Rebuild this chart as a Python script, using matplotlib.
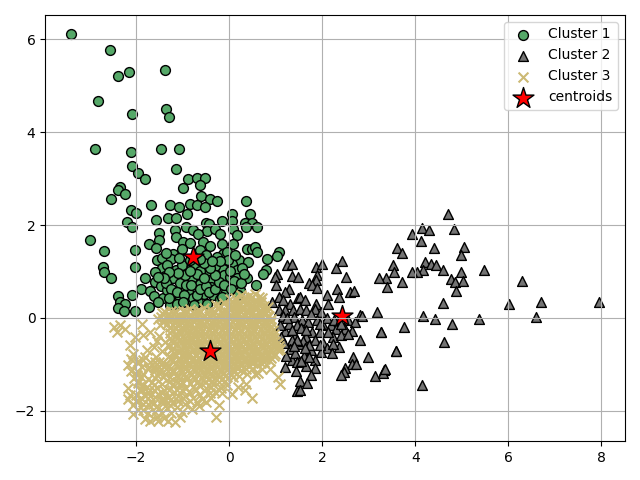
import matplotlib
matplotlib.use('Agg')
from matplotlib import pyplot as plt

cluster1 = [(-3.39,6.11),(-2.57,5.78),(-2.38,5.22),(-2.15,5.31),(-1.37,5.35),(-2.81,4.68),(-2.08,4.40),(-1.35,4.51),
    (-1.29,4.34),(-2.88,3.65),(-2.12,3.58),(-1.46,3.63),(-1.07,3.65),(-2.08,3.28),(-1.96,3.12),(-1.14,3.20),
    (-1.82,3.0),(-0.88,3.0),(-0.70,3.01),(-0.51,3.01),(-0.62,2.87),(-0.99,2.79),(-2.35,2.82),(-2.40,2.76),
    (-2.23,2.68),(-2.53,2.57),(-0.60,2.62),(-0.41,2.57),(-0.26,2.51),(0.36,2.51),(-0.84,2.46),(-0.70,2.44),
    (-0.53,2.38),(-1.67,2.43),(-1.27,2.43),(-1.07,2.40),(-2.10,2.33),(-2.01,2.27),(-0.90,2.23),(0.07,2.25),
    (0.45,2.23),(-1.31,2.16),(-1.15,2.16),(-1.58,2.12),(-2.19,2.06),(-2.08,1.96),(-0.49,2.05),(-0.43,2.02),
    (-0.16,2.09),(0.07,2.09),(0.34,2.05),(0.49,2.05),(0.37,1.96),(0.59,1.96),(-0.93,1.97),(-0.77,1.90),
    (-1.17,1.90),(-1.50,1.84),(-0.47,1.87),(-0.31,1.92),(0.09,1.92),(-0.19,1.80),(0.16,1.78),(-1.14,1.74),
    (-0.66,1.80),(-1.50,1.67),(-1.72,1.59),(-1.58,1.51),(-2.02,1.47),(-2.70,1.45),(-1.00,1.64),(-0.84,1.62),
    (-0.57,1.64),(-0.42,1.54),(-0.16,1.59),(0.09,1.60),(-1.02,1.48),(-1.20,1.38),(-0.63,1.46),(-0.13,1.38),
    (-0.27,1.31),(-0.49,1.35),(0.39,1.49),(0.49,1.49),(0.55,1.53),(0.59,1.42),(1.07,1.42),(1.03,1.33),
    (0.82,1.28),(0.21,1.24),(0.41,1.20),(-1.56,1.24),(-1.45,1.29),(-1.24,1.28),(-0.95,1.10),(-0.74,1.17),
    (0.05,1.17),(-2.02,1.10),(-2.72,1.10),(-2.70,0.99),(-2.55,0.85),(-1.82,0.85),(-1.89,0.63),(-1.45,1.08),
    (-1.59,0.99),(-1.14,1.04),(-1.13,0.88),(-0.49,0.99),(-0.14,1.06),(-0.11,0.92),(0.16,1.03),(0.80,1.04),
    (0.73,0.94),(0.39,0.87),(0.01,0.88),(0.16,0.87),(-0.81,0.85),(-0.41,0.81),(-1.20,0.85),(-1.38,0.90),
    (-1.59,0.77),(-1.47,0.68),(-1.02,0.67),(-0.74,0.61),(-0.21,0.63),(0.23,0.61),(0.57,0.70),(-0.40,0.67),
    (-0.63,0.74),(-1.06,0.75),(-1.70,0.58),(-1.61,0.47),(-1.27,0.52),(-0.88,0.56),(-0.55,0.52),(-0.34,0.49),
    (-0.06,0.56),(-2.40,0.47),(-2.09,0.50),(-1.20,0.38),(-1.42,0.42),(-0.88,0.34),(-2.35,0.34),(-2.23,0.29),
    (-2.38,0.22),(-2.27,0.15),(-2.02,0.16),(-1.72,0.23),(-1.27,0.27),(-1.52,0.34),(-0.66,0.34),(-0.20,0.40),
    (-1.06,0.45),(-1.34,0.60),(0.09,0.70),(-2.99,1.67),(-0.30,1.12),(-0.62,1.02),(-0.95,0.92),(-1.33,1.15),
    (0.27,1.08),(-0.05,1.42),(-0.78,0.42),(-0.48,0.30),
    (-1.35,0.75),(-1.25,0.62),(-1.12,0.55),(-0.98,0.50),(-0.92,0.72),(-0.82,0.70),(-0.70,0.50),(-0.62,0.62),
    (-0.50,0.68),(-0.44,0.55),(-0.30,0.62),(-0.22,0.78),(-0.30,0.92),(-0.42,1.08),(-0.55,1.18),(-0.70,0.95),
    (-0.85,1.02),(-1.02,1.15),(-1.10,0.96),(-1.30,1.00),(-1.40,0.85),(-1.52,0.88),(-1.30,0.42),(-1.12,0.30),
    (-0.12,0.72),(0.02,1.02),(0.10,0.80),(0.25,0.75),(0.32,0.95),(-0.02,1.25),(0.12,1.35),(-0.20,1.22),
    (-0.38,1.22),(-0.62,1.28),(-0.85,1.25),(-1.08,1.30),(-1.35,1.40),(0.03,0.62),(0.18,0.50),(-0.15,0.45),
    (-0.55,0.85),(-1.00,0.35),(-0.75,0.28)]

cluster2 = [(1.24,1.15),(1.35,1.16),(1.87,1.10),(2.00,1.17),(2.43,1.23),(2.30,1.08),(1.03,0.95),(0.98,0.88),
    (1.35,0.90),(1.48,0.88),(1.89,0.92),(1.86,0.81),(2.51,0.88),(1.01,0.71),(1.71,0.75),(1.77,0.72),
    (1.89,0.65),(1.29,0.62),(1.21,0.56),(2.32,0.62),(2.59,0.56),(2.68,0.58),(2.10,0.50),(2.35,0.45),
    (1.07,0.46),(1.48,0.44),(0.92,0.34),(1.16,0.38),(1.86,0.31),(2.13,0.31),(1.30,0.31),(1.07,0.18),
    (1.20,0.18),(1.37,0.18),(1.52,0.20),(1.64,0.18),(1.84,0.20),(1.98,0.13),(2.81,0.06),(2.86,0.05),
    (3.18,0.13),(1.40,0.01),(1.57,-0.04),(1.89,-0.04),(2.55,-0.05),(2.70,-0.09),(1.46,-0.16),(1.70,-0.09),
    (2.02,-0.16),(2.18,-0.16),(2.30,-0.23),(2.48,-0.23),(2.63,-0.28),(1.21,-0.28),(1.77,-0.30),(1.95,-0.30),
    (3.26,-0.30),(3.76,-0.20),(1.41,-0.38),(1.65,-0.40),(2.23,-0.40),(2.41,-0.36),(1.34,-0.48),(1.85,-0.48),
    (2.81,-0.47),(1.50,-0.57),(1.75,-0.68),(2.02,-0.54),(2.10,-0.64),(2.35,-0.63),(2.23,-0.57),(1.30,-0.66),
    (1.98,-0.74),(3.59,-0.71),(2.98,-0.84),(2.66,-0.84),(1.61,-0.81),(1.34,-0.91),(1.85,-0.91),(2.63,-0.99),
    (2.73,-1.00),(1.20,-1.06),(1.66,-1.04),(1.84,-1.07),(2.49,-1.07),(2.47,-1.17),(2.41,-1.24),(1.43,-1.14),
    (1.75,-1.24),(3.13,-1.25),(1.52,-1.35),(1.67,-1.40),(1.45,-1.58),(1.52,-1.55),
    (1.55,-0.22),(1.28,-0.12),(1.42,-0.75),(1.58,-0.50),(1.72,-0.58),(2.12,-0.30),(1.22,-0.82),(1.46,-0.95),
    (1.12,-0.40),(1.18,-0.55),(1.10,-0.15),(1.35,-0.25),(1.45,-0.48),(1.62,-0.65),(1.55,-0.92),(1.72,-0.85),
    (1.40,-0.60),(1.95,-0.12),(2.10,0.00),(1.75,0.08),(1.52,0.45),(1.62,0.38),(1.15,0.05),(1.25,0.00),
    (2.25,-0.05),(2.40,-0.12),(2.55,-0.35),(2.20,-0.75),(1.95,-0.58),(1.65,-0.25),
    (4.70,2.25),(4.14,1.94),(4.29,1.89),(3.93,1.81),(4.83,1.91),(4.12,1.65),(4.40,1.50),(5.04,1.53),
    (4.98,1.36),(3.60,1.50),(3.71,1.41),(4.21,1.21),(4.33,1.17),(4.44,1.14),(3.52,1.14),(4.16,1.03),
    (4.04,1.00),(3.93,0.99),(4.59,1.03),(4.98,1.00),(5.47,1.03),(3.54,0.99),(3.36,0.87),(3.22,0.87),
    (3.71,0.77),(3.39,0.67),(4.77,0.84),(4.85,0.77),(5.02,0.79),(4.87,0.57),(6.29,0.80),(4.59,0.32),
    (6.02,0.29),(6.70,0.34),(7.94,0.34),(6.59,0.02),(5.37,-0.02),(4.16,0.04),(4.42,-0.02),(4.79,-0.14),
    (3.27,-0.30),(4.61,-0.52),(3.33,-1.13),(3.31,-1.18),(3.34,-1.09),(4.14,-1.45),(3.58,-0.72)]

cluster3 = [(-2.47,-0.20),(-2.35,-0.16),(-2.42,-0.30),(-2.24,-0.23),(-1.88,-0.12),(-1.85,-0.37),(-1.70,-0.30),
    (-2.02,-0.41),(-2.13,-0.59),(-2.06,-0.77),(-2.10,-0.88),(-2.17,-1.02),(-1.85,-0.91),(-1.77,-0.70),(-1.38,-0.52),
    (-1.60,-0.95),(-1.60,-1.13),(-1.38,-1.20),(-1.85,-1.20),(-1.99,-1.24),(-2.17,-1.52),(-2.13,-1.67),(-2.17,-1.74),
    (-2.06,-1.88),(-2.06,-2.06),(-1.85,-1.99),(-1.81,-2.17),(-1.70,-2.22),(-1.56,-2.13),(-1.52,-2.22),(-1.31,-2.22),
    (-1.16,-2.24),(-1.06,-2.13),(-1.02,-2.03),(-0.29,-2.13),(-0.21,-1.88),(-0.49,-1.81),(-0.81,-1.96),(-0.70,-1.81),
    (0.48,-1.72),(0.34,-1.56),(0.05,-1.63),(0.19,-1.49),(1.09,-1.42),(1.05,-1.27),(0.87,-1.09),(0.55,-1.20),
    (0.37,-1.42),(-1.63,-1.85),(-1.92,-1.56),(-1.77,-1.49),(-1.52,-1.63),(-1.31,-1.70),(-1.13,-1.56),(-1.45,-1.42),
    (-1.27,-1.27),(-1.70,-1.68),(-1.95,-1.78),(-1.45,-1.80),(-1.20,-1.84),(-1.00,-1.72),(-0.85,-1.62),(-0.55,-1.55),
    (-1.75,-1.10),(-1.95,-0.98),(-0.30,-1.60),(-1.60,-2.03),(-1.90,-1.72),(-1.40,-1.55),(-1.05,-1.45),(-1.55,-1.22),
    (-1.75,-1.32),(-1.95,-1.40),(-1.68,-1.78),(-1.38,-1.90),(-1.10,-1.68),(-0.72,-1.55),(-0.40,-1.48),
    # lower left of the cluster, loosely packed
    (-1.95,-0.92),(-1.80,-0.85),(-1.70,-0.95),(-1.88,-1.05),(-1.72,-1.05),(-1.50,-0.95),(-1.38,-1.02),(-1.98,-1.15),
    (-1.62,-1.05),(-1.48,-1.15),(-1.35,-1.10),(-1.22,-1.15),(-1.90,-1.28),(-1.42,-1.27),(-1.15,-1.25),(-1.30,-1.38),
    (-1.95,-1.35),(-1.85,-1.45),(-1.65,-1.38),(-1.55,-1.50),(-1.20,-1.42),(-1.10,-1.38),
    (-1.88,-1.55),(-1.75,-1.60),(-1.62,-1.56),(-1.45,-1.62),(-1.30,-1.55),(-1.18,-1.60),(-1.02,-1.55),(-0.92,-1.50),
    (-0.78,-1.48),(-0.65,-1.45),(-0.50,-1.50),(-0.35,-1.43),(-0.22,-1.38),(-0.10,-1.35),(-0.18,-1.50),(-0.05,-1.45),
    (-2.00,-1.65),(-1.82,-1.68),(-1.60,-1.70),(-1.42,-1.72),(-1.25,-1.75),(-1.10,-1.78),(-0.95,-1.68),(-0.78,-1.72),
    (-0.62,-1.65),(-0.42,-1.62),(-0.15,-1.62),(-0.58,-1.75),(-0.40,-1.72),
    (-2.00,-1.80),(-1.85,-1.85),(-1.72,-1.88),(-1.55,-1.90),(-1.40,-1.82),(-1.28,-1.88),(-1.12,-1.92),(-0.95,-1.85),
    (-0.85,-1.80),(-0.65,-1.90),(-0.10,-1.25),(0.08,-1.28),(0.22,-1.25),(0.38,-1.20),(0.70,-1.10),(0.62,-1.18),(0.48,-1.10),
    (-2.05,-1.30),(-2.12,-1.15),(-1.95,-1.98),(-1.75,-2.05),(-1.45,-2.05),(-1.25,-2.05),(-1.40,-2.15),
    # dense part of the cluster, row by row
    (0.25,0.50),(0.42,0.47),(0.55,0.52),(0.02,0.40),(0.13,0.43),(0.30,0.38),(0.45,0.41),(0.60,0.37),(0.70,0.42),
    (-0.28,0.28),(-0.12,0.32),(0.00,0.27),(0.10,0.31),(0.22,0.26),(0.35,0.30),(0.50,0.27),(0.62,0.31),(0.75,0.26),
    (-1.00,0.16),(-0.85,0.20),(-0.70,0.15),(-0.55,0.22),(-0.40,0.17),(-0.25,0.20),(-0.10,0.15),(0.03,0.19),(0.15,0.14),
    (0.28,0.20),(0.42,0.16),(0.55,0.21),(0.68,0.15),(0.80,0.19),
    (-1.45,0.10),(-1.32,0.06),(-1.20,0.11),(-1.08,0.05),(-0.95,0.10),(-0.80,0.04),(-0.66,0.09),(-0.52,0.05),(-0.38,0.11),
    (-0.22,0.05),(-0.08,0.09),(0.05,0.04),(0.20,0.10),(0.33,0.05),(0.46,0.09),(0.60,0.03),(0.74,0.08),(0.86,0.04),
    (-1.52,-0.03),(-1.40,-0.05),(-1.27,-0.01),(-1.14,-0.06),(-1.02,-0.02),(-0.88,-0.06),(-0.74,-0.02),(-0.60,-0.07),
    (-0.46,-0.03),(-0.32,-0.06),(-0.18,-0.01),(-0.04,-0.06),(0.10,-0.02),(0.24,-0.07),(0.38,-0.03),(0.52,-0.06),(0.66,-0.01),(0.80,-0.06),(0.90,-0.03),
    (-1.48,-0.15),(-1.34,-0.12),(-1.20,-0.16),(-1.08,-0.13),(-0.95,-0.17),(-0.82,-0.13),(-0.68,-0.16),(-0.54,-0.12),
    (-0.40,-0.17),(-0.26,-0.13),(-0.12,-0.16),(0.02,-0.12),(0.16,-0.17),(0.30,-0.13),(0.44,-0.16),(0.58,-0.12),(0.72,-0.17),(0.86,-0.14),
    (-1.22,-0.25),(-1.10,-0.28),(-0.98,-0.24),(-0.86,-0.27),(-0.72,-0.23),(-0.58,-0.28),(-0.44,-0.24),(-0.30,-0.27),
    (-0.16,-0.23),(-0.02,-0.28),(0.12,-0.24),(0.26,-0.27),(0.40,-0.23),(0.54,-0.28),(0.68,-0.24),(0.82,-0.27),(0.94,-0.25),
    (-1.50,-0.38),(-1.15,-0.36),(-1.00,-0.39),(-0.88,-0.35),(-0.75,-0.38),(-0.62,-0.34),(-0.48,-0.39),(-0.34,-0.35),
    (-0.20,-0.38),(-0.06,-0.34),(0.08,-0.39),(0.22,-0.35),(0.36,-0.38),(0.50,-0.34),(0.64,-0.39),(0.78,-0.35),(0.92,-0.38),
    (-1.55,-0.50),(-1.22,-0.48),(-1.05,-0.45),(-0.92,-0.49),(-0.78,-0.46),(-0.65,-0.50),(-0.52,-0.46),(-0.38,-0.49),
    (-0.24,-0.45),(-0.10,-0.50),(0.04,-0.46),(0.18,-0.49),(0.32,-0.45),(0.46,-0.50),(0.60,-0.46),(0.74,-0.49),(0.88,-0.45),(0.99,-0.50),
    (-1.62,-0.62),(-1.30,-0.60),(-1.12,-0.57),(-0.98,-0.61),(-0.85,-0.58),(-0.72,-0.62),(-0.58,-0.58),(-0.44,-0.61),
    (-0.30,-0.57),(-0.16,-0.62),(-0.02,-0.58),(0.12,-0.61),(0.26,-0.57),(0.40,-0.62),(0.54,-0.58),(0.68,-0.61),(0.82,-0.57),(0.96,-0.62),(1.06,-0.60),
    (-1.45,-0.72),(-1.25,-0.70),(-1.08,-0.73),(-0.92,-0.69),(-0.78,-0.72),(-0.64,-0.68),(-0.50,-0.73),(-0.36,-0.69),
    (-0.22,-0.72),(-0.08,-0.68),(0.06,-0.73),(0.20,-0.69),(0.34,-0.72),(0.48,-0.68),(0.62,-0.73),(0.76,-0.69),(0.90,-0.72),(1.04,-0.70),
    (-1.58,-0.84),(-1.30,-0.82),(-1.15,-0.80),(-1.00,-0.84),(-0.86,-0.80),(-0.72,-0.83),(-0.58,-0.79),(-0.44,-0.84),
    (-0.30,-0.80),(-0.16,-0.83),(-0.02,-0.79),(0.12,-0.84),(0.26,-0.80),(0.40,-0.83),(0.54,-0.79),(0.68,-0.84),(0.82,-0.80),(0.96,-0.83),
    (-1.42,-0.95),(-1.22,-0.93),(-1.08,-0.90),(-0.94,-0.94),(-0.80,-0.91),(-0.66,-0.95),(-0.52,-0.91),(-0.38,-0.94),
    (-0.24,-0.90),(-0.10,-0.95),(0.04,-0.91),(0.18,-0.94),(0.32,-0.90),(0.46,-0.95),(0.60,-0.91),(0.74,-0.94),(0.88,-0.92),
    (-1.50,-1.05),(-1.30,-1.03),(-1.12,-1.02),(-0.98,-1.05),(-0.84,-1.01),(-0.70,-1.04),(-0.56,-1.00),(-0.42,-1.05),
    (-0.28,-1.01),(-0.14,-1.04),(0.00,-1.00),(0.14,-1.05),(0.28,-1.01),(0.42,-1.04),(0.60,-1.02),
    (-1.18,-1.14),(-1.02,-1.16),(-0.88,-1.12),(-0.74,-1.15),(-0.60,-1.11),(-0.46,-1.16),(-0.32,-1.12),(-0.18,-1.15),
    (-0.04,-1.11),(0.10,-1.16),(0.25,-1.12),
    (-1.60,-1.30),(-1.10,-1.27),(-0.92,-1.25),(-0.78,-1.28),(-0.64,-1.24),(-0.50,-1.27),(-0.36,-1.23),(-0.22,-1.28),(-0.06,-1.24),
    (-1.02,-1.38),(-0.84,-1.40),(-0.68,-1.36),(-0.52,-1.39),(-0.36,-1.35),(-1.62,-1.45),
    # second pass through the dense rows, between the first ones
    (0.36,0.44),(0.50,0.45),(0.65,0.46),(0.08,0.35),(0.22,0.33),(0.38,0.35),(0.54,0.33),(0.68,0.35),
    (-0.20,0.25),(-0.05,0.23),(0.09,0.24),(0.28,0.23),(0.44,0.23),(0.58,0.25),(0.71,0.22),(0.84,0.24),
    (-1.38,0.13),(-1.26,0.15),(-1.14,0.13),(-0.92,0.14),(-0.76,0.11),(-0.62,0.14),(-0.46,0.13),(-0.30,0.12),(-0.15,0.11),
    (-0.02,0.12),(0.12,0.08),(0.26,0.12),(0.40,0.10),(0.52,0.13),(0.66,0.09),(0.80,0.11),
    (-1.46,0.02),(-1.26,0.04),(-1.14,0.03),(-1.00,0.02),(-0.88,0.03),(-0.72,0.01),(-0.58,0.02),(-0.44,0.04),(-0.30,0.00),
    (-0.14,0.03),(-0.01,0.01),(0.15,0.03),(0.26,0.00),(0.40,0.03),(0.54,0.01),(0.68,0.03),(0.82,0.01),
    (-1.42,-0.09),(-1.30,-0.07),(-1.16,-0.10),(-1.02,-0.09),(-0.90,-0.11),(-0.76,-0.08),(-0.62,-0.11),(-0.48,-0.09),(-0.34,-0.10),
    (-0.20,-0.08),(-0.06,-0.11),(0.08,-0.08),(0.22,-0.11),(0.36,-0.09),(0.50,-0.11),(0.64,-0.08),(0.78,-0.11),(0.90,-0.09),
    (-1.28,-0.20),(-1.14,-0.22),(-1.02,-0.20),(-0.90,-0.22),(-0.76,-0.19),(-0.62,-0.21),(-0.50,-0.19),(-0.36,-0.22),(-0.22,-0.19),
    (-0.08,-0.21),(0.06,-0.19),(0.20,-0.22),(0.34,-0.19),(0.48,-0.21),(0.62,-0.19),(0.76,-0.22),(0.90,-0.20),
    (-1.28,-0.32),(-1.06,-0.33),(-0.92,-0.31),(-0.80,-0.32),(-0.66,-0.30),(-0.52,-0.33),(-0.38,-0.31),(-0.24,-0.33),(-0.10,-0.30),
    (0.04,-0.33),(0.18,-0.30),(0.32,-0.33),(0.46,-0.30),(0.60,-0.33),(0.74,-0.30),(0.88,-0.32),(0.97,-0.34),
    (-1.28,-0.43),(-1.10,-0.42),(-0.96,-0.44),(-0.82,-0.41),(-0.68,-0.44),(-0.56,-0.41),(-0.42,-0.44),(-0.28,-0.41),(-0.14,-0.44),
    (0.00,-0.41),(0.14,-0.44),(0.28,-0.41),(0.42,-0.44),(0.56,-0.41),(0.70,-0.44),(0.84,-0.41),(0.96,-0.44),
    (-1.20,-0.54),(-1.02,-0.52),(-0.90,-0.55),(-0.74,-0.53),(-0.60,-0.55),(-0.46,-0.52),(-0.32,-0.54),(-0.18,-0.52),(-0.04,-0.55),
    (0.10,-0.52),(0.24,-0.54),(0.38,-0.52),(0.52,-0.55),(0.66,-0.52),(0.80,-0.54),(0.94,-0.52),(1.04,-0.54),
    (-1.20,-0.65),(-1.04,-0.66),(-0.92,-0.63),(-0.78,-0.66),(-0.66,-0.64),(-0.52,-0.66),(-0.38,-0.63),(-0.24,-0.66),(-0.10,-0.63),
    (0.04,-0.66),(0.18,-0.63),(0.32,-0.66),(0.46,-0.63),(0.60,-0.66),(0.74,-0.63),(0.88,-0.66),(1.02,-0.65),(1.10,-0.67),
    (-1.18,-0.76),(-1.00,-0.77),(-0.86,-0.75),(-0.72,-0.77),(-0.56,-0.75),(-0.42,-0.77),(-0.28,-0.75),(-0.14,-0.77),(0.00,-0.74),
    (0.14,-0.77),(0.28,-0.75),(0.42,-0.77),(0.56,-0.74),(0.70,-0.77),(0.84,-0.75),(0.98,-0.77),
    (-1.24,-0.87),(-1.08,-0.86),(-0.92,-0.88),(-0.78,-0.86),(-0.64,-0.88),(-0.50,-0.86),(-0.36,-0.88),(-0.22,-0.86),(-0.08,-0.88),
    (0.06,-0.86),(0.20,-0.88),(0.34,-0.86),(0.48,-0.88),(0.62,-0.86),(0.76,-0.88),(0.90,-0.86),
    (-1.15,-0.98),(-1.02,-0.97),(-0.88,-0.99),(-0.74,-0.97),(-0.60,-0.99),(-0.46,-0.97),(-0.32,-0.99),(-0.18,-0.97),(-0.04,-0.99),
    (0.10,-0.97),(0.24,-0.99),(0.38,-0.97),(0.52,-0.98),(0.68,-0.97),
    (-1.06,-1.09),(-0.92,-1.08),(-0.78,-1.10),(-0.64,-1.08),(-0.50,-1.10),(-0.36,-1.08),(-0.22,-1.10),(-0.08,-1.07),(0.06,-1.10),(0.20,-1.08),(0.36,-1.09),
    (-0.98,-1.20),(-0.82,-1.20),(-0.68,-1.18),(-0.54,-1.20),(-0.40,-1.18),(-0.26,-1.20),(-0.12,-1.18),(0.04,-1.20),
    (-0.90,-1.32),(-0.74,-1.32),(-0.58,-1.30),(-0.44,-1.32),(-0.30,-1.30)]

centroids = [(-0.77,1.31),(2.42,0.04),(-0.41,-0.72)]

x1, y1 = zip(*cluster1)
x2, y2 = zip(*cluster2)
x3, y3 = zip(*cluster3)
cx, cy = zip(*centroids)

plt.figure(figsize=(6.4,4.8))
plt.scatter(x1,y1,s=50,c='#55a868',marker='o',edgecolors='black',linewidths=1,label='Cluster 1')
plt.scatter(x2,y2,s=50,c='#737373',marker='^',edgecolors='black',linewidths=1,label='Cluster 2')
plt.scatter(x3,y3,s=50,c='#ccb974',marker='x',label='Cluster 3')
plt.scatter(cx,cy,s=250,c='red',marker='*',edgecolors='black',linewidths=1,label='centroids')
plt.legend(scatterpoints=1,loc='upper right')
plt.grid()
plt.tight_layout()
plt.savefig('out.png',dpi=100)
